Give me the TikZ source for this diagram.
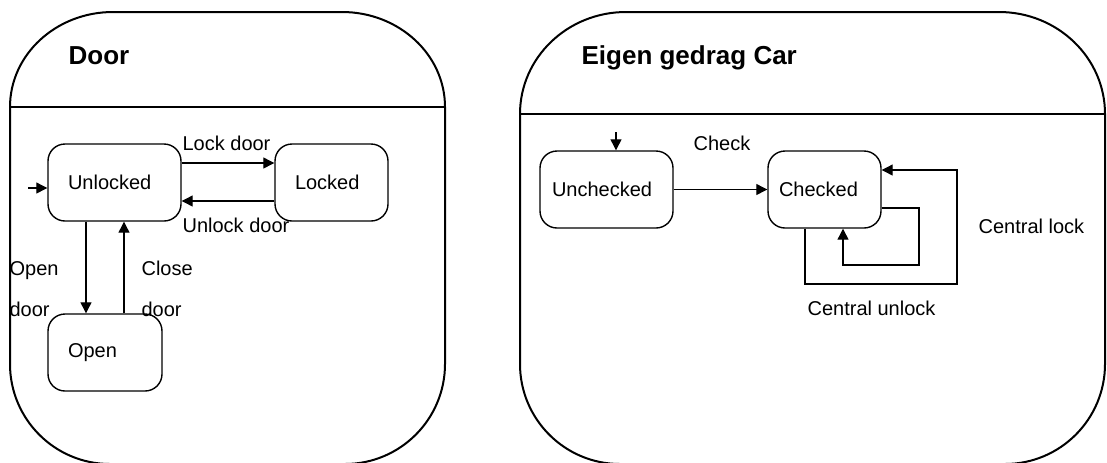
\documentclass[tikz,border=0pt]{standalone}
\usepackage{fontspec}
\setmainfont{Liberation Sans}
\usetikzlibrary{arrows.meta, calc}

\begin{document}
\begin{tikzpicture}[x=0.5pt, y=-0.5pt,
	>={Triangle[length=5.5pt, width=5.5pt]},
	frame/.style={line width=1pt},
	state/.style={draw, line width=0.7pt, rounded corners=8.5pt, minimum height=38.5pt,
		align=left, font=\fontsize{10}{12}\selectfont},
	lbl/.style={anchor=base west, inner sep=0pt, align=left,
		font=\fontsize{10}{20.5}\selectfont},
	title/.style={anchor=base west, inner sep=0pt, font=\fontsize{13}{15}\selectfont\bfseries},
	every path/.append style={line width=0.6pt}]

	\useasboundingbox (0,0) rectangle (1107,462);

	% Door
	\draw[frame] (10,107) arc[start angle=180, end angle=90, x radius=51.5pt, y radius=47.5pt]
		-- (342,12) arc[start angle=90, end angle=0, x radius=51.5pt, y radius=47.5pt]
		-- (445,364) arc[start angle=0, end angle=-90, radius=50pt]
		-- (110,464) arc[start angle=270, end angle=180, radius=50pt] -- cycle;
	\draw[frame] (10,107) -- (445,107);
	\node[title] (doortitle) at (68,64) {Door};

	\node[state, inner xsep=10pt, text width=46.5pt] (unlocked) at (114.5,182.5) {Unlocked};
	\node[state, inner xsep=10pt, text width=36.5pt] (locked) at (331.5,182.5) {Locked};
	\node[state, inner xsep=10pt, text width=37pt] (open) at (105,352.5) {Open};

	\coordinate (init1) at (28,188);
	\draw[->] (init1) -- (init1 -| unlocked.west);
	\draw[->] ([yshift=9.75pt]unlocked.east) -- ([yshift=9.75pt]locked.west);
	\draw[->] ([yshift=-9.25pt]locked.west) -- ([yshift=-9.25pt]unlocked.east);
	\draw[->] ([xshift=-14.25pt]unlocked.south) -- ([xshift=-14.25pt]unlocked.south |- open.north);
	\draw[->] ([xshift=4.75pt]unlocked.south |- open.north) -- ([xshift=4.75pt]unlocked.south);

	\node[lbl] (lockdoor) at (182,150) {Lock door};
	\node[lbl] (unlockdoor) at (182,232) {Unlock door};
	\node[lbl] (opendoor) at (9,316) {Open\\door};
	\node[lbl] (closedoor) at (141,316) {Close\\door};

	% Eigen gedrag Car
	\draw[frame] (520,114) arc[start angle=180, end angle=90, x radius=53pt, y radius=51pt]
		-- (999,12) arc[start angle=90, end angle=0, x radius=53pt, y radius=51pt]
		-- (1105,364) arc[start angle=0, end angle=-90, radius=50pt]
		-- (620,464) arc[start angle=270, end angle=180, radius=50pt] -- cycle;
	\draw[frame] (520,114) -- (1105,114);
	\node[title] (cartitle) at (581,64) {Eigen gedrag Car};

	\node[state, inner xsep=6pt, text width=54.5pt] (unchecked) at (606.5,189.5) {Unchecked};
	\node[state, inner xsep=5.5pt, text width=45.5pt] (checked) at (824.5,189.5) {Checked};

	\coordinate (init2) at (616,132);
	\coordinate (lockcorner) at (957,284);
	\coordinate (unlockcorner) at (919,265);
	\draw[->] (init2) -- (init2 |- unchecked.north);
	\draw[->] (unchecked.east) -- (checked.west);
	\draw[->] ([xshift=-9.75pt]checked.south) |- (lockcorner) |- ([yshift=9.75pt]checked.east);
	\draw[->] ([yshift=-9.25pt]checked.east) -| (unlockcorner) -| ([xshift=9.25pt]checked.south);

	\node[lbl] (check) at (693,150) {Check};
	\node[lbl] (centrallock) at (978,233) {Central lock};
	\node[lbl] (centralunlock) at (807,315) {Central unlock};
\end{tikzpicture}
\end{document}
